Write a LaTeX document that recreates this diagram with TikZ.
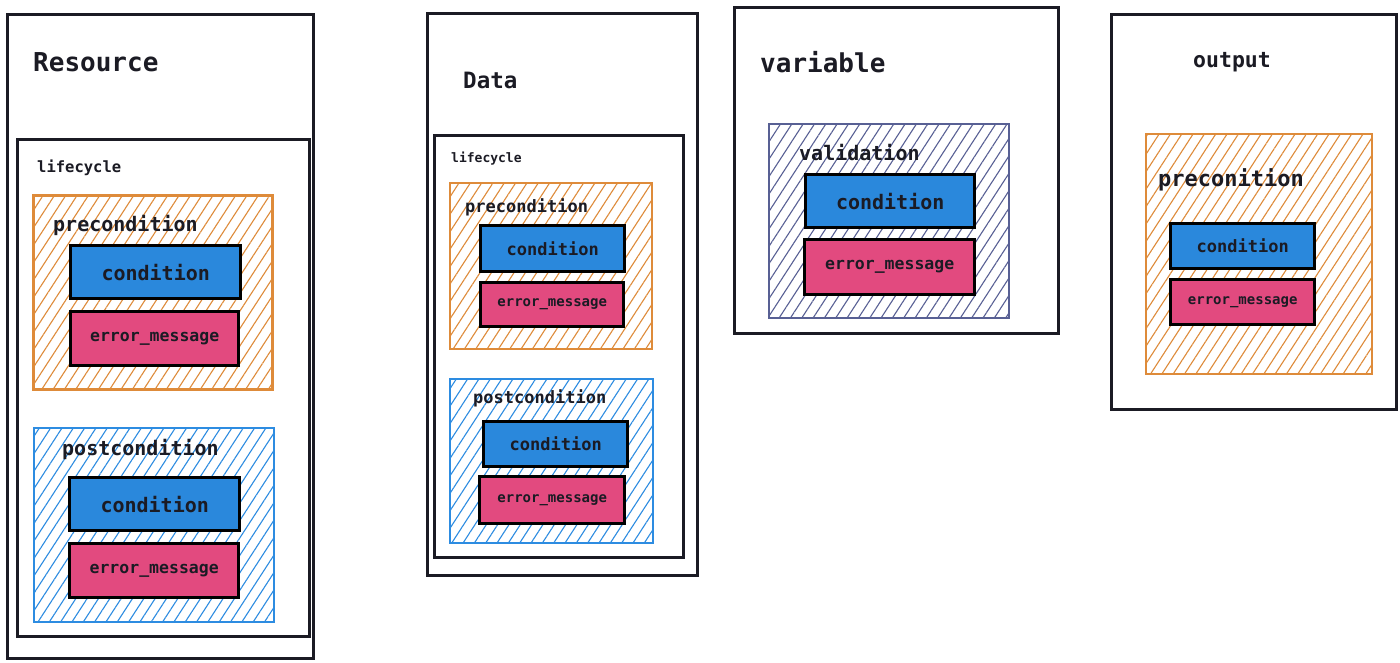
\documentclass[tikz,border=0pt]{standalone}
\usepackage{fontspec}
\setmonofont{DejaVu Sans Mono}
\usetikzlibrary{patterns.meta}
\definecolor{ink}{HTML}{1B1B24}
\definecolor{orangeh}{RGB}{222,139,58}
\definecolor{blueh}{RGB}{45,140,225}
\definecolor{slateh}{RGB}{88,96,148}
\definecolor{condfill}{RGB}{42,136,220}
\definecolor{errfill}{RGB}{226,74,127}
\newcommand\fsz[1]{\ttfamily\bfseries\fontsize{#1}{#1}\selectfont}
\tikzset{
  frame/.style={draw=ink, line width=2.7pt, fill=white, inner sep=0pt, anchor=north west},
  hatchbox/.style={draw=#1, line width=2.4pt, pattern={Lines[angle=57,distance=9.5pt,line width=1.1pt]}, pattern color=#1, inner sep=0pt, anchor=north west},
  field/.style={draw=black, line width=3.4pt, fill=#1, inner sep=0pt, anchor=north west, text=ink},
  lbl/.style={anchor=west, inner sep=0pt, text=ink},
}
\begin{document}
\begin{tikzpicture}[x=1pt,y=-1pt]
\useasboundingbox[fill=white] (0,0) rectangle (1400,663);

% ---------- Resource ----------
\node[frame, minimum width=306pt, minimum height=644pt] (res) at (6,13) {};
\node[lbl, font=\fsz{26}] (resT) at (33,62) {Resource};
\node[frame, minimum width=292pt, minimum height=497pt] (resLC) at (16,138) {};
\node[lbl, font=\fsz{15.5}] (resLCT) at (37,168) {lifecycle};
\node[hatchbox=orangeh, minimum width=239pt, minimum height=194pt] (resPre) at (33,195) {};
\node[lbl, font=\fsz{20}] (resPreT) at (53,225) {precondition};
\node[field=condfill, minimum width=170pt, minimum height=53pt, font=\fsz{20}] (resPreC) at (69,244) {condition};
\node[field=errfill, minimum width=168pt, minimum height=54pt, font=\fsz{16.5}] (resPreE) at (69,310) {error\_message};
\node[hatchbox=blueh, minimum width=240pt, minimum height=194pt] (resPost) at (33,427) {};
\node[lbl, font=\fsz{20}] (resPostT) at (62,449) {postcondition};
\node[field=condfill, minimum width=170pt, minimum height=53pt, font=\fsz{20}] (resPostC) at (68,476) {condition};
\node[field=errfill, minimum width=169pt, minimum height=54pt, font=\fsz{16.5}] (resPostE) at (68,542) {error\_message};

% ---------- Data ----------
\node[frame, minimum width=270pt, minimum height=562pt] (dat) at (426,12) {};
\node[lbl, font=\fsz{22.5}] (datT) at (463,80) {Data};
\node[frame, minimum width=249pt, minimum height=422pt] (datLC) at (433,134) {};
\node[lbl, font=\fsz{13}] (datLCT) at (451,159) {lifecycle};
\node[hatchbox=orangeh, minimum width=202pt, minimum height=166pt] (datPre) at (449,182) {};
\node[lbl, font=\fsz{17}] (datPreT) at (465,207) {precondition};
\node[field=condfill, minimum width=144pt, minimum height=46pt, font=\fsz{17}] (datPreC) at (479,224) {condition};
\node[field=errfill, minimum width=143pt, minimum height=44pt, font=\fsz{14}] (datPreE) at (479,281) {error\_message};
\node[hatchbox=blueh, minimum width=203pt, minimum height=164pt] (datPost) at (449,378) {};
\node[lbl, font=\fsz{17}] (datPostT) at (473,398) {postcondition};
\node[field=condfill, minimum width=144pt, minimum height=45pt, font=\fsz{17}] (datPostC) at (482,420) {condition};
\node[field=errfill, minimum width=145pt, minimum height=47pt, font=\fsz{14}] (datPostE) at (478,475) {error\_message};

% ---------- variable ----------
\node[frame, minimum width=324pt, minimum height=326pt] (var) at (733,6) {};
\node[lbl, font=\fsz{26}] (varT) at (760,62) {variable};
\node[hatchbox=slateh, minimum width=240pt, minimum height=194pt] (varVal) at (768,123) {};
\node[lbl, font=\fsz{20}] (varValT) at (799,153) {validation};
\node[field=condfill, minimum width=169pt, minimum height=53pt, font=\fsz{20}] (varC) at (804,173) {condition};
\node[field=errfill, minimum width=170pt, minimum height=55pt, font=\fsz{16.5}] (varE) at (803,238) {error\_message};

% ---------- output ----------
\node[frame, minimum width=285pt, minimum height=395pt] (out) at (1110,13) {};
\node[lbl, font=\fsz{21.5}] (outT) at (1193,62) {output};
\node[hatchbox=orangeh, minimum width=226pt, minimum height=240pt] (outPre) at (1145,133) {};
\node[lbl, font=\fsz{22}] (outPreT) at (1158,180) {preconition};
\node[field=condfill, minimum width=144pt, minimum height=45pt, font=\fsz{17}] (outC) at (1169,222) {condition};
\node[field=errfill, minimum width=144pt, minimum height=45pt, font=\fsz{14}] (outE) at (1169,278) {error\_message};
\end{tikzpicture}
\end{document}
